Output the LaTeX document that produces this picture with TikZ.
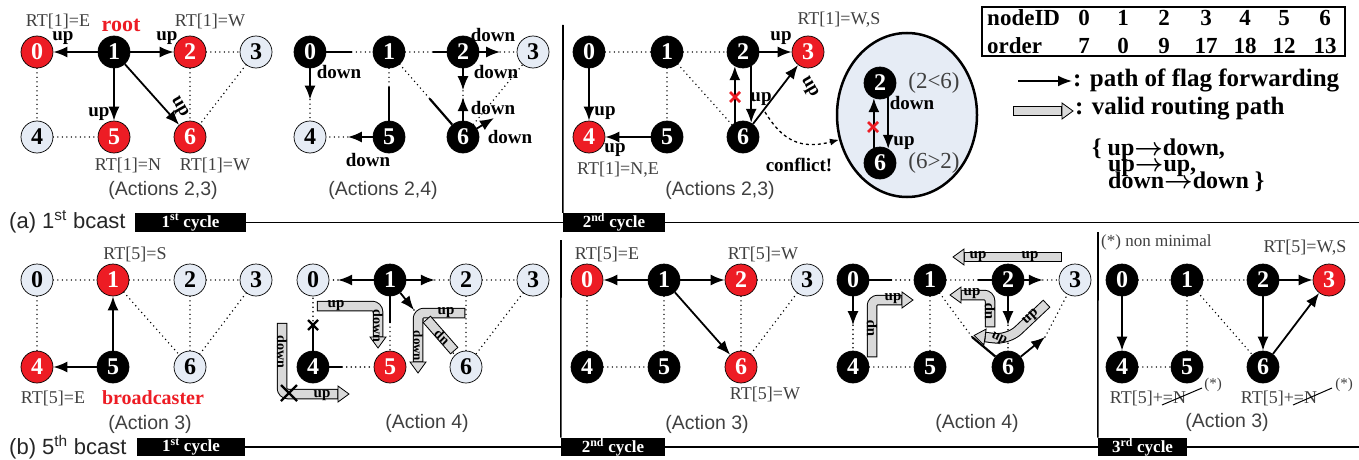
\documentclass[tikz,border=0pt]{standalone}
\usepackage{fontspec}
\setmainfont{Liberation Serif}
\setsansfont{Liberation Sans}
\usetikzlibrary{arrows.meta,calc,shapes.geometric}
\definecolor{nred}{RGB}{237,28,36}
\definecolor{nblue}{RGB}{230,236,245}
\definecolor{gfill}{RGB}{217,217,217}
\definecolor{tgray}{RGB}{64,64,64}
\newcommand{\myfs}[1]{\fontsize{#1}{#1}\selectfont}
\newcommand{\rar}{{\boldmath$\rightarrow$}}
\tikzset{
  nd/.style={circle, minimum size=32pt, inner sep=0pt, draw=black, line width=0.7pt, font=\myfs{24}\bfseries},
  rd/.style={nd, fill=nred, text=white},
  bk/.style={nd, fill=black, text=white},
  lt/.style={nd, fill=nblue, text=black},
  dotl/.style={line width=1.6pt, dash pattern=on 0pt off 4.5pt, line cap=round},
  arr/.style={line width=1.8pt, -{Latex[length=14pt,width=11pt]}},
  stub/.style={line width=2.2pt},
  rt/.style={font=\myfs{18}, text=tgray, inner sep=0pt},
  ud/.style={font=\myfs{19}\bfseries, inner sep=0pt},
  capt/.style={font=\sffamily\myfs{19.5}, text=tgray, inner sep=0pt},
  gl/.style={font=\myfs{15}\bfseries, inner sep=0pt},
  lg/.style={font=\myfs{25}\bfseries, inner sep=0pt, anchor=west},
  lgb/.style={font=\myfs{24}\bfseries, inner sep=0pt, anchor=base west},
  cyc/.style={fill=black, text=white, font=\myfs{17}\bfseries, inner sep=0pt, minimum height=19pt},
  secl/.style={line width=1.6pt},
  gbk/.style={line width=10.5pt, line cap=rect, rounded corners=6pt, draw=black},
  ggr/.style={line width=8.5pt, line cap=rect, rounded corners=6pt, draw=gfill},
}
\newcommand{\ghead}[3]{\filldraw[fill=gfill,draw=black,line width=0.8pt,shift={(#1,#2)},rotate=#3] (0,-8) -- (11,0) -- (0,8) -- cycle;}
\newcommand{\gpath}[2][]{\draw[gbk,shorten >=5pt,#1] #2; \draw[ggr,shorten >=5pt,#1] #2;}
\newcommand{\gbar}[2][]{\draw[gbk,#1] #2; \draw[ggr,#1] #2;}
\newcommand{\redx}[2]{\draw[nred,line width=2.5pt] (#1-5,#2-5) -- (#1+5,#2+5) (#1-5,#2+5) -- (#1+5,#2-5);}
\newcommand{\blkx}[3]{\draw[black,line width=2.3pt] (#1-#3,#2-#3) -- (#1+#3,#2+#3) (#1-#3,#2+#3) -- (#1+#3,#2-#3);}
\begin{document}
\begin{tikzpicture}[x=1pt,y=-1pt]
\useasboundingbox (0,0) rectangle (1359,460);
\fill[white] (0,0) rectangle (1359,460);

% ================= A1
\node[rd] (a0) at (37,52) {0};
\node[bk] (a1) at (114,52) {1};
\node[rd] (a2) at (190,52) {2};
\node[lt] (a3) at (256,52) {3};
\node[lt] (a4) at (37,137) {4};
\node[rd] (a5) at (114,137) {5};
\node[rd] (a6) at (190,137) {6};
\draw[dotl] (a2)--(a3) (a0)--(a4) (a4)--(a5) (a2)--(a6) (a3)--(a6);
\draw[arr] (a1)--(a0);
\draw[arr] (a1)--(a2);
\draw[arr] (a1)--(a5);
\draw[arr] (a1)--(a6);
\node[rt] at (58,21) {RT[1]=E};
\node[ud, text=nred, font=\myfs{22}\bfseries] at (121,25) {root};
\node[rt] at (210,21) {RT[1]=W};
\node[ud] at (63,38) {up};
\node[ud] at (167,38) {up};
\node[ud] at (99,114) {up};
\node[ud, rotate=-60] at (179,107) {up};
\node[rt] at (128,165) {RT[1]=N};
\node[rt] at (215,165) {RT[1]=W};
\node[capt] at (163,190) {(Actions 2,3)};

% ================= A2
\node[bk] (b0) at (310,52) {0};
\node[bk] (b1) at (389,52) {1};
\node[bk] (b2) at (463,52) {2};
\node[lt] (b3) at (533,52) {3};
\node[lt] (b4) at (310,137) {4};
\node[bk] (b5) at (389,137) {5};
\node[bk] (b6) at (463,137) {6};
\coordinate (b6t) at (494,118);
\draw[stub] (b0) -- ($(b0)!0.53!(b1)$);
\draw[dotl] ($(b0)!0.53!(b1)$) -- (b1);
\draw[dotl] ($(b0)!0.56!(b4)$) -- (b4);
\draw[arr] (b0) -- ($(b0)!0.56!(b4)$);
\draw[dotl] (b1) -- ($(b1)!0.6!(b2)$);
\draw[stub] ($(b1)!0.6!(b2)$) -- (b2);
\draw[dotl] (b1) -- ($(b1)!0.41!(b5)$);
\draw[stub] ($(b1)!0.41!(b5)$) -- (b5);
\draw[dotl] (b1) -- ($(b1)!0.55!(b6)$);
\draw[stub] ($(b1)!0.55!(b6)$) -- (b6);
\draw[dotl] ($(b2)!0.53!(b3)$) -- (b3);
\draw[arr] (b2) -- ($(b2)!0.53!(b3)$);
\draw[dotl] (b2) -- (b6);
\draw[dotl] (b6) -- (b3);
\draw[arr] (b2) -- ($(b2)!0.45!(b6)$);
\draw[arr] (b6) -- ($(b6)!0.47!(b2)$);
\draw[arr] (b6) -- (b6t);
\draw[dotl] ($(b5)!0.52!(b4)$) -- (b4);
\draw[arr] (b5) -- ($(b5)!0.52!(b4)$);
\node[ud] at (339,72) {down};
\node[ud] at (493,35) {down};
\node[ud] at (496,72) {down};
\node[ud] at (493,108) {down};
\node[ud] at (510,137) {down};
\node[ud] at (368,160) {down};
\node[capt] at (383,190) {(Actions 2,4)};

% ================= A3
\node[bk] (c0) at (589,52) {0};
\node[bk] (c1) at (667,52) {1};
\node[bk] (c2) at (743,52) {2};
\node[rd] (c3) at (808,52) {3};
\node[rd] (c4) at (589,137) {4};
\node[bk] (c5) at (667,137) {5};
\node[bk] (c6) at (743,137) {6};
\draw[dotl] (c0)--(c1) (c1)--(c2) (c1)--(c5) (c1)--(c6);
\draw[arr] (c0)--(c4);
\draw[arr] (c5)--(c4);
\draw[arr] (c2)--(c3);
\draw[arr] (c6)--(c3);
\draw[arr] (c6.120) -- (c2.240);
\draw[arr] (c2.300) -- (c6.60);
\redx{735}{97}
\node[ud] at (605,113) {up};
\node[ud] at (615,150) {up};
\node[rt] at (618,170) {RT[1]=N,E};
\node[ud] at (781,38) {up};
\node[rt] at (839,20) {RT[1]=W,S};
\node[ud] at (761,99) {up};
\node[ud, rotate=-60] at (809,87) {up};
\node[ud] at (799,165) {conflict!};
\node[capt] at (720,190) {(Actions 2,3)};

% ellipse
\node[ellipse, draw, line width=2.5pt, fill=nblue, minimum width=140pt, minimum height=164pt, inner sep=0pt] (ell) at (907,115) {};
\node[bk] (q2) at (880,83) {2};
\node[bk] (q6) at (880,163) {6};
\draw[arr] (q6.112) -- (q2.248);
\draw[arr] (q2.300) -- (q6.60);
\redx{873}{127}
\node[ud] at (912,103) {down};
\node[ud] at (904,143) {up};
\node[rt, font=\myfs{23}] at (934,83) {(2<6)};
\node[rt, font=\myfs{23}] at (934,163) {(6>2)};
\coordinate (cf) at (765,112);
\draw[dashed, line width=1.3pt, -{Latex[length=9pt,width=7pt]}] (cf) .. controls (782,140) and (800,150) .. (ell.200);

% legend
\node[draw, line width=1.5pt, minimum width=363pt, minimum height=49pt, inner sep=0pt] (tbl) at (1163.5,31.5) {};
\node[font=\myfs{23}\bfseries, anchor=west, inner sep=0pt] at (987,18) {nodeID};
\node[font=\myfs{23}\bfseries, anchor=west, inner sep=0pt] at (987,46) {order};
\foreach \xx/\aa/\bb in {1084/0/7, 1123/1/0, 1164/2/9, 1206/3/17, 1245/4/18, 1284/5/12, 1325/6/13}{
  \node[font=\myfs{23}\bfseries, inner sep=0pt] at (\xx,18) {\aa};
  \node[font=\myfs{23}\bfseries, inner sep=0pt] at (\xx,46) {\bb};
}
\coordinate (la1) at (1018,81);
\coordinate (la2) at (1072,81);
\draw[arr] (la1) -- (la2);
\node[lg] at (1073,80) {: path of flag forwarding};
\gpath{(1018,111) -- (1062,111)}
\ghead{1062}{111}{0}
\node[lg] at (1075,109) {: valid routing path};
\node[lgb] at (1092,155) {\{ up\rar down,};
\node[lgb] at (1108,171) {up\rar up,};
\node[lgb] at (1108,188) {down\rar down \}};

% section (a)
\node[anchor=west, font=\sffamily\myfs{22}, text=black!85, inner sep=0pt] at (9,222) {(a) 1\textsuperscript{st} bcast};
\node[cyc, minimum width=111pt] (ca1) at (190.5,222.5) {1\textsuperscript{st} cycle};
\draw[secl] (ca1.east) -- (1359,222.5);
\node[cyc, minimum width=102pt] (ca2) at (614,222.5) {2\textsuperscript{nd} cycle};
\draw[secl] (563,25) -- (ca2.north west);

% ================= B1
\node[lt] (d0) at (37,280) {0};
\node[rd] (d1) at (113,280) {1};
\node[lt] (d2) at (190,280) {2};
\node[lt] (d3) at (256,280) {3};
\node[rd] (d4) at (37,367) {4};
\node[bk] (d5) at (113,367) {5};
\node[lt] (d6) at (190,367) {6};
\draw[dotl] (d0)--(d1) (d1)--(d2) (d2)--(d3) (d0)--(d4) (d1)--(d6) (d2)--(d6) (d3)--(d6);
\draw[arr] (d5)--(d1);
\draw[arr] (d5)--(d4);
\node[rt] at (135,254) {RT[5]=S};
\node[rt] at (53,398) {RT[5]=E};
\node[ud, text=nred, font=\myfs{20}\bfseries] at (153,398) {broadcaster};
\node[capt] at (150,424) {(Action 3)};

% ================= B2
\node[lt] (e0) at (313,280) {0};
\node[bk] (e1) at (390,280) {1};
\node[lt] (e2) at (466,280) {2};
\node[lt] (e3) at (533,280) {3};
\node[bk] (e4) at (313,367) {4};
\node[rd] (e5) at (390,367) {5};
\node[lt] (e6) at (466,367) {6};
\coordinate (e1t) at (414,310);
\draw[dotl] ($(e1)!0.675!(e0)$) -- (e0);
\draw[arr] (e1) -- ($(e1)!0.675!(e0)$);
\draw[dotl] ($(e1)!0.59!(e2)$) -- (e2);
\draw[arr] (e1) -- ($(e1)!0.59!(e2)$);
\draw[dotl] (e1t) -- (e6);
\draw[arr] (e1) -- (e1t);
\draw[stub] (e1) -- ($(e1)!0.49!(e5)$);
\draw[dotl] ($(e1)!0.49!(e5)$) -- (e5);
\draw[dotl] (e2)--(e3) (e2)--(e6) (e3)--(e6);
\draw[stub] (e4) -- ($(e4)!0.48!(e0)$);
\draw[dotl] ($(e4)!0.48!(e0)$) -- (e0);
\blkx{313}{325}{5}
\draw[stub] (e4) -- ($(e4)!0.38!(e5)$);
\draw[dotl] ($(e4)!0.38!(e5)$) -- (e5);
\gpath{(322,306) -- (378,306) -- (378,337)}
\ghead{378}{337}{-90}
\gpath{(460,313) -- (418,313) -- (418,362)}
\ghead{418}{362}{-90}
\gbar{(451,347) -- (430,323)}
\gpath{(282,328) -- (282,394) -- (338,394)}
\ghead{338}{394}{0}
\node[gl] at (336,306) {up};
\node[gl, rotate=-90, font=\myfs{14}\bfseries] at (378,326) {down};
\node[gl] at (446,313) {up};
\node[gl, rotate=-90, font=\myfs{13}\bfseries] at (418,346) {down};
\node[gl, rotate=135, font=\myfs{14}\bfseries] at (442,337) {up};
\node[gl, rotate=-90, font=\myfs{14}\bfseries] at (282,352) {down};
\node[gl] at (322,396) {up};
\blkx{289}{393}{8}
\node[capt] at (427,423) {(Action 4)};

% ================= B3
\node[rd] (f0) at (587,280) {0};
\node[bk] (f1) at (664,280) {1};
\node[rd] (f2) at (741,280) {2};
\node[lt] (f3) at (807,280) {3};
\node[bk] (f4) at (587,367) {4};
\node[bk] (f5) at (664,367) {5};
\node[rd] (f6) at (741,367) {6};
\draw[dotl] (f2)--(f3) (f0)--(f4) (f1)--(f5) (f4)--(f5) (f2)--(f6) (f3)--(f6);
\draw[arr] (f1)--(f0);
\draw[arr] (f1)--(f2);
\draw[arr] (f1)--(f6);
\node[rt] at (607,254) {RT[5]=E};
\node[rt] at (763,254) {RT[5]=W};
\node[rt] at (765,394) {RT[5]=W};
\node[capt] at (707,424) {(Action 3)};

% ================= B4
\node[bk] (g0) at (853,280) {0};
\node[bk] (g1) at (930,280) {1};
\node[bk] (g2) at (1008,280) {2};
\node[lt] (g3) at (1075,280) {3};
\node[bk] (g4) at (853,367) {4};
\node[bk] (g5) at (930,367) {5};
\node[bk] (g6) at (1008,367) {6};
\coordinate (g6a) at (972,337);
\coordinate (g6b) at (1045,337);
\draw[stub] (g0) -- ($(g0)!0.5!(g1)$);
\draw[dotl] ($(g0)!0.5!(g1)$) -- (g1);
\draw[dotl] ($(g0)!0.52!(g4)$) -- (g4);
\draw[arr] (g0) -- ($(g0)!0.52!(g4)$);
\draw[dotl] (g4)--(g5) (g1)--(g5);
\draw[dotl] (g1) -- ($(g1)!0.62!(g2)$);
\draw[stub] ($(g1)!0.62!(g2)$) -- (g2);
\draw[dotl] ($(g2)!0.52!(g3)$) -- (g3);
\draw[arr] (g2) -- ($(g2)!0.52!(g3)$);
\draw[dotl] ($(g2)!0.52!(g6)$) -- (g6);
\draw[arr] (g2) -- ($(g2)!0.52!(g6)$);
\draw[dotl] (g1) -- (g6a);
\draw[stub] (g6a) -- (g6);
\draw[dotl] (g6b) -- (g3);
\draw[arr] (g6) -- (g6b);
\gpath{(1057,257) -- (964,257)}
\ghead{964}{257}{180}
\gpath{(872,352) -- (872,300) -- (902,300)}
\ghead{902}{300}{0}
\gpath{(990,322) -- (990,295) -- (961,295)}
\ghead{961}{295}{180}
\gpath[rounded corners=14pt]{(1043,307) -- (1008,340) -- (985,337)}
\ghead{985}{337}{172}
\node[gl] at (978,257) {up};
\node[gl] at (1030,257) {up};
\node[gl, rotate=90] at (872,328) {up};
\node[gl] at (893,299) {up};
\node[gl] at (972,294) {up};
\node[gl, rotate=90] at (990,311) {up};
\node[gl, rotate=42] at (1031,317) {up};
\node[gl, rotate=-25, font=\myfs{14}\bfseries] at (999,339) {up};
\node[capt] at (977,423) {(Action 4)};

% ================= B5
\node[bk] (h0) at (1122,280) {0};
\node[bk] (h1) at (1187,280) {1};
\node[bk] (h2) at (1263,280) {2};
\node[rd] (h3) at (1329,280) {3};
\node[bk] (h4) at (1122,367) {4};
\node[bk] (h5) at (1187,367) {5};
\node[bk] (h6) at (1263,367) {6};
\draw[dotl] (h0)--(h1) (h1)--(h2) (h1)--(h5) (h4)--(h5) (h1)--(h6);
\draw[arr] (h0)--(h4);
\draw[arr] (h2)--(h3);
\draw[arr] (h2)--(h6);
\draw[arr] (h6)--(h3);
\node[anchor=west, font=\myfs{17}, text=tgray, inner sep=0pt] at (1101,242) {(*) non minimal};
\node[rt] at (1305,248) {RT[5]=W,S};
\node[rt] at (1148,398) {RT[5]+=N};
\draw[line width=1pt] (1162,405) -- (1202,388);
\node[rt, font=\myfs{15}] at (1213,385) {(*)};
\node[rt] at (1279,398) {RT[5]+=N};
\draw[line width=1pt] (1293,405) -- (1332,388);
\node[rt, font=\myfs{15}] at (1344,385) {(*)};
\node[capt] at (1227,422) {(Action 3)};

% section (b)
\node[anchor=west, font=\sffamily\myfs{22}, text=black!85, inner sep=0pt] at (9,447) {(b) 5\textsuperscript{th} bcast};
\node[cyc, minimum width=108pt, minimum height=18pt] (cb1) at (191,447) {1\textsuperscript{st} cycle};
\draw[secl] (cb1.east) -- (1359,447);
\node[cyc, minimum width=104pt, minimum height=18pt] (cb2) at (613,447) {2\textsuperscript{nd} cycle};
\node[cyc, minimum width=89pt, minimum height=18pt] (cb3) at (1142.5,447) {3\textsuperscript{rd} cycle};
\draw[secl] (561,240) -- (cb2.north west);
\draw[secl] (1098,232) -- (cb3.north west);
\end{tikzpicture}
\end{document}
